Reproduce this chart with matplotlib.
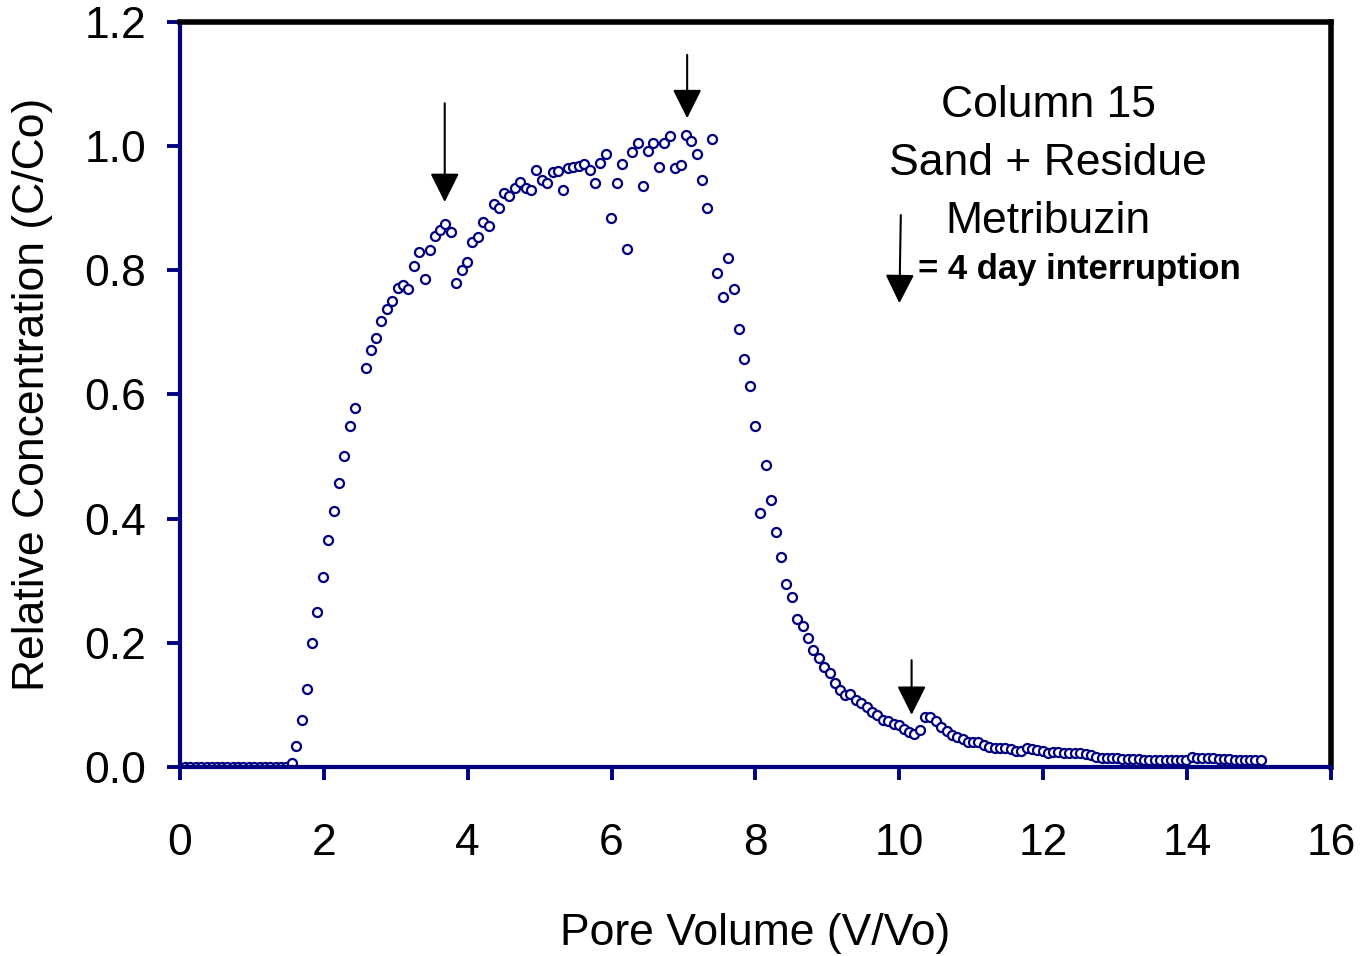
import matplotlib.pyplot as plt

plt.rcParams['font.family'] = ['Liberation Sans', 'DejaVu Sans']

# pore volume (V/Vo) and relative concentration (C/Co)
pore_vol = [0.07, 0.14, 0.22, 0.29, 0.37, 0.44, 0.51, 0.59, 0.66, 0.74,
            0.81, 0.88, 0.96, 1.03, 1.11, 1.18, 1.25, 1.33, 1.40, 1.48,
            1.55, 1.61, 1.69, 1.77, 1.84, 1.91, 1.99, 2.06, 2.14, 2.21,
            2.28, 2.36, 2.43, 2.58, 2.66, 2.73, 2.80, 2.88, 2.95, 3.03,
            3.10, 3.17, 3.25, 3.32, 3.40, 3.47, 3.54, 3.62, 3.69, 3.77,
            3.84, 3.92, 3.99, 4.06, 4.14, 4.21, 4.29, 4.36, 4.43, 4.51,
            4.58, 4.66, 4.73, 4.81, 4.88, 4.95, 5.03, 5.10, 5.18, 5.25,
            5.32, 5.40, 5.47, 5.55, 5.62, 5.70, 5.77, 5.84, 5.92, 5.99,
            6.07, 6.14, 6.21, 6.29, 6.36, 6.44, 6.51, 6.58, 6.66, 6.73,
            6.81, 6.88, 6.96, 7.03, 7.10, 7.18, 7.25, 7.33, 7.40, 7.47,
            7.55, 7.62, 7.70, 7.77, 7.84, 7.92, 7.99, 8.06, 8.14, 8.21,
            8.28, 8.36, 8.43, 8.51, 8.58, 8.66, 8.73, 8.80, 8.88, 8.95,
            9.03, 9.10, 9.17, 9.25, 9.32, 9.40, 9.47, 9.55, 9.62, 9.69,
            9.77, 9.84, 9.92, 9.99, 10.06, 10.14, 10.21, 10.29, 10.36, 10.43,
            10.51, 10.58, 10.66, 10.73, 10.80, 10.88, 10.95, 11.03, 11.10, 11.18,
            11.25, 11.33, 11.40, 11.47, 11.55, 11.62, 11.69, 11.77, 11.84, 11.92,
            11.99, 12.06, 12.14, 12.21, 12.29, 12.36, 12.44, 12.51, 12.59, 12.66,
            12.73, 12.81, 12.88, 12.96, 13.03, 13.10, 13.18, 13.25, 13.33, 13.40,
            13.47, 13.55, 13.62, 13.70, 13.77, 13.84, 13.92, 13.99, 14.07, 14.14,
            14.21, 14.29, 14.36, 14.44, 14.51, 14.58, 14.66, 14.73, 14.81, 14.88,
            14.95, 15.03]
rel_conc = [0, 0, 0, 0, 0, 0, 0, 0, 0, 0,
            0, 0, 0, 0, 0, 0, 0, 0, 0, 0,
            0.006, 0.034, 0.076, 0.126, 0.200, 0.249, 0.306, 0.366, 0.413, 0.458,
            0.501, 0.550, 0.579, 0.642, 0.671, 0.691, 0.718, 0.738, 0.751, 0.771,
            0.777, 0.770, 0.807, 0.829, 0.786, 0.833, 0.855, 0.865, 0.875, 0.862,
            0.779, 0.800, 0.813, 0.846, 0.854, 0.878, 0.871, 0.907, 0.900, 0.924,
            0.920, 0.932, 0.942, 0.933, 0.930, 0.961, 0.946, 0.941, 0.959, 0.960,
            0.929, 0.965, 0.967, 0.968, 0.972, 0.962, 0.940, 0.973, 0.987, 0.885,
            0.940, 0.971, 0.835, 0.990, 1.005, 0.936, 0.992, 1.005, 0.966, 1.005,
            1.017, 0.965, 0.970, 1.018, 1.009, 0.988, 0.946, 0.901, 1.011, 0.795,
            0.757, 0.820, 0.770, 0.705, 0.657, 0.614, 0.550, 0.409, 0.487, 0.430,
            0.379, 0.339, 0.295, 0.274, 0.239, 0.227, 0.207, 0.188, 0.175, 0.161,
            0.152, 0.136, 0.124, 0.116, 0.118, 0.108, 0.103, 0.096, 0.089, 0.083,
            0.075, 0.074, 0.069, 0.067, 0.062, 0.057, 0.053, 0.060, 0.081, 0.081,
            0.074, 0.064, 0.058, 0.051, 0.048, 0.045, 0.040, 0.040, 0.041, 0.035,
            0.032, 0.031, 0.031, 0.031, 0.029, 0.026, 0.025, 0.031, 0.029, 0.028,
            0.026, 0.023, 0.024, 0.024, 0.022, 0.022, 0.022, 0.022, 0.021, 0.020,
            0.016, 0.015, 0.015, 0.014, 0.014, 0.013, 0.013, 0.013, 0.013, 0.012,
            0.012, 0.012, 0.012, 0.012, 0.012, 0.011, 0.011, 0.011, 0.016, 0.015,
            0.014, 0.014, 0.014, 0.013, 0.013, 0.013, 0.012, 0.012, 0.012, 0.012,
            0.012, 0.011]

# interruption arrows: (x, tail y, tip y)
arrows = [(3.68, 1.069, 0.910), (7.05, 1.147, 1.045), (10.17, 0.172, 0.084)]

title_lines = ['Column 15', 'Sand + Residue', 'Metribuzin']
x_ticks = [0, 2, 4, 6, 8, 10, 12, 14, 16]
y_ticks = [0.0, 0.2, 0.4, 0.6, 0.8, 1.0, 1.2]

navy = '#000080'

fig = plt.figure(figsize=(13.72, 9.56), dpi=100)
ax = fig.add_axes([0.1312, 0.1977, 0.8389, 0.7793])

ax.plot(pore_vol, rel_conc, linestyle='none', marker='o', markersize=6.5,
        markerfacecolor='white', markeredgecolor=navy, markeredgewidth=1.6)

ax.set_xlim(0, 16)
ax.set_ylim(0, 1.2)
ax.set_xticks(x_ticks)
ax.set_xticklabels([str(t) for t in x_ticks])
ax.set_yticks(y_ticks)
ax.set_yticklabels(['%.1f' % t for t in y_ticks])

for side in ['left', 'bottom']:
    ax.spines[side].set_color(navy)
    ax.spines[side].set_linewidth(3)
for side in ['top', 'right']:
    ax.spines[side].set_color('black')
    ax.spines[side].set_linewidth(4)

ax.tick_params(axis='x', direction='out', length=9.5, width=2.8, color=navy,
               labelsize=32, pad=31, labelcolor='black')
ax.tick_params(axis='y', direction='out', length=9.5, width=2.8, color=navy,
               labelsize=32, pad=15, labelcolor='black')

fig.text(755 / 1372, 1 - 933 / 956, 'Pore Volume (V/Vo)', fontsize=32,
         ha='center', va='center')
fig.text(33 / 1372, 1 - 394.5 / 956, 'Relative Concentration (C/Co)', fontsize=32,
         rotation=90, ha='center', va='center')

for x, y0, y1 in arrows:
    ax.annotate('', xy=(x, y1), xytext=(x, y0),
                arrowprops=dict(arrowstyle='-|>,head_length=0.9,head_width=0.45',
                                color='black', lw=1.5, mutation_scale=20,
                                shrinkA=0, shrinkB=0))

# text block in the upper right
for line, y in zip(title_lines, [1.066, 0.972, 0.879]):
    ax.text(12.07, y, line, fontsize=32, ha='center', va='center')

ax.annotate('', xy=(10.0, 0.747), xytext=(10.02, 0.889),
            arrowprops=dict(arrowstyle='-|>,head_length=0.9,head_width=0.45',
                            color='black', lw=1.5, mutation_scale=20,
                            shrinkA=0, shrinkB=0))
ax.text(10.26, 0.801, '= 4 day interruption', fontsize=25, fontweight='bold',
        ha='left', va='center')

fig.savefig('out.png', dpi=100)
